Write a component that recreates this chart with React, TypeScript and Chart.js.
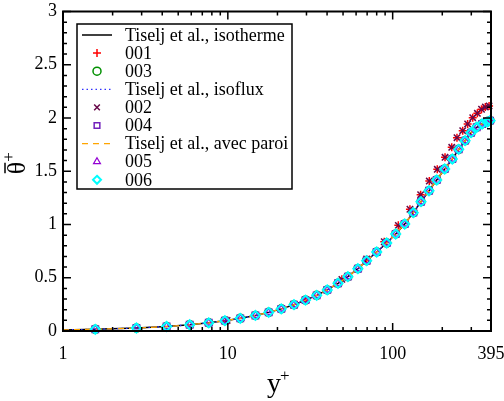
import { useEffect, useRef } from 'react';
import { Chart, registerables } from 'chart.js';

Chart.register(...registerables);

// ---- data ----
const X_TICK_LABELS = [1, 10, 100, 395];
const Y_TICK_LABELS = [0, 0.5, 1, 1.5, 2, 2.5, 3];

// Tiselj et al. reference profiles (y+, mean theta+)
const TISELJ_YPLUS = [1, 1.57, 2.79, 4.25, 5.87, 7.66, 9.6, 11.9, 14.7, 17.7, 21.1, 25.2, 29.6, 34.6, 40.1, 46.6, 53.5, 61.5, 69.5, 80, 92, 104.3, 118.3, 133.4, 148.5, 166.1, 185, 206.8, 230, 251.6, 275, 298.8, 323.6, 348.5, 374, 395];
const TISELJ_ISOTHERME = [0.01, 0.016, 0.028, 0.042, 0.059, 0.077, 0.097, 0.119, 0.146, 0.175, 0.208, 0.247, 0.29, 0.335, 0.386, 0.448, 0.51, 0.585, 0.66, 0.742, 0.826, 0.911, 1.005, 1.111, 1.214, 1.317, 1.418, 1.521, 1.615, 1.706, 1.787, 1.862, 1.913, 1.944, 1.962, 1.976];
const TISELJ_ISOFLUX = [0.01, 0.016, 0.028, 0.042, 0.059, 0.077, 0.097, 0.119, 0.146, 0.175, 0.208, 0.247, 0.29, 0.335, 0.386, 0.448, 0.51, 0.585, 0.66, 0.742, 0.826, 0.911, 1.005, 1.111, 1.214, 1.317, 1.418, 1.521, 1.615, 1.706, 1.787, 1.862, 1.913, 1.944, 1.962, 1.976];
const TISELJ_PAROI = [0.01, 0.016, 0.028, 0.042, 0.059, 0.077, 0.097, 0.119, 0.146, 0.175, 0.208, 0.247, 0.29, 0.335, 0.386, 0.448, 0.51, 0.585, 0.66, 0.742, 0.826, 0.911, 1.005, 1.111, 1.214, 1.317, 1.418, 1.521, 1.615, 1.706, 1.787, 1.862, 1.913, 1.944, 1.962, 1.976];

// cases 001 / 002 (uniform mesh)
const CASE_A_YPLUS = [9.9, 29.6, 49.2, 69.5, 88.9, 108.2, 127.3, 147.8, 166.8, 186.5, 207.8, 228.2, 245.6, 266, 285, 306, 326.5, 346, 365, 384.5];
const CASE_001 = [0.099, 0.29, 0.485, 0.676, 0.838, 0.992, 1.143, 1.28, 1.408, 1.518, 1.631, 1.725, 1.815, 1.881, 1.944, 2.003, 2.044, 2.082, 2.103, 2.113];
const CASE_002 = [0.099, 0.29, 0.485, 0.676, 0.838, 0.992, 1.143, 1.28, 1.408, 1.518, 1.631, 1.725, 1.815, 1.881, 1.944, 2.003, 2.044, 2.082, 2.103, 2.113];

// cases 003 - 006 (stretched mesh)
const CASE_B_YPLUS = [1.57, 2.79, 4.25, 5.87, 7.66, 9.6, 11.9, 14.7, 17.7, 21.1, 25.2, 29.6, 34.6, 40.1, 46.6, 53.5, 61.5, 69.5, 80, 92, 104.3, 118.3, 133.4, 148.5, 166.1, 185, 206.8, 230, 251.6, 275, 298.8, 323.6, 348.5, 374, 390];
const CASE_003 = [0.016, 0.028, 0.042, 0.059, 0.077, 0.097, 0.119, 0.146, 0.175, 0.208, 0.247, 0.29, 0.335, 0.386, 0.448, 0.51, 0.585, 0.66, 0.742, 0.826, 0.911, 1.005, 1.111, 1.214, 1.317, 1.418, 1.521, 1.615, 1.706, 1.787, 1.862, 1.913, 1.944, 1.962, 1.975];
const CASE_004 = CASE_003.slice();
const CASE_005 = CASE_003.slice();
const CASE_006 = CASE_003.slice();

const FONT = '"Liberation Serif", "DejaVu Serif", serif';

const pts = (xs: number[], ys: number[]) => xs.map((x, i) => ({ x, y: ys[i] }));

function drawMarker(ctx: CanvasRenderingContext2D, style: string, x: number, y: number, r: number) {
  ctx.beginPath();
  const s = r * Math.SQRT1_2;
  switch (style) {
    case 'cross':
      ctx.moveTo(x - r, y); ctx.lineTo(x + r, y);
      ctx.moveTo(x, y - r); ctx.lineTo(x, y + r);
      break;
    case 'crossRot':
      ctx.moveTo(x - s, y - s); ctx.lineTo(x + s, y + s);
      ctx.moveTo(x - s, y + s); ctx.lineTo(x + s, y - s);
      break;
    case 'circle':
      ctx.arc(x, y, r, 0, Math.PI * 2);
      break;
    case 'rect':
      ctx.rect(x - s, y - s, 2 * s, 2 * s);
      break;
    case 'triangle': {
      ctx.moveTo(x, y - r);
      ctx.lineTo(x + r * 0.866, y + r * 0.5);
      ctx.lineTo(x - r * 0.866, y + r * 0.5);
      ctx.closePath();
      break;
    }
    case 'rectRot':
      ctx.moveTo(x, y - r); ctx.lineTo(x + r, y); ctx.lineTo(x, y + r); ctx.lineTo(x - r, y); ctx.closePath();
      break;
  }
  ctx.stroke();
}

const decorPlugin = {
  id: 'decor',
  afterDraw(chart: any) {
    const { ctx, chartArea: ca, scales } = chart;
    const xs = scales.x, ys = scales.y;
    ctx.save();
    ctx.strokeStyle = '#000';
    ctx.lineWidth = 1.5;
    ctx.setLineDash([]);
    // x ticks (log: 1..9, 10..90, 100..300)
    ctx.beginPath();
    for (let d = 1; d <= 100; d *= 10) {
      for (let m = 1; m <= 9; m++) {
        const v = d * m;
        if (v >= 395) break;
        const px = xs.getPixelForValue(v);
        const len = m === 1 ? 8 : 4;
        ctx.moveTo(px, ca.bottom); ctx.lineTo(px, ca.bottom - len);
        ctx.moveTo(px, ca.top); ctx.lineTo(px, ca.top + len);
      }
    }
    // y ticks every 0.1, major every 0.5
    for (let k = 0; k <= 30; k++) {
      const py = ys.getPixelForValue(k / 10);
      const len = k % 5 === 0 ? 8 : 4;
      ctx.moveTo(ca.left, py); ctx.lineTo(ca.left + len, py);
      ctx.moveTo(ca.right, py); ctx.lineTo(ca.right - len, py);
    }
    ctx.stroke();
    // frame
    ctx.lineWidth = 2;
    ctx.strokeRect(ca.left, ca.top, ca.right - ca.left, ca.bottom - ca.top);

    // legend
    const lx = ca.left + 14, ly = ca.top + 12.5, lw = 215, lh = 165;
    ctx.fillStyle = '#fff';
    ctx.fillRect(lx, ly, lw, lh);
    ctx.lineWidth = 1.5;
    ctx.strokeStyle = '#000';
    ctx.strokeRect(lx, ly, lw, lh);
    chart.data.datasets.forEach((ds: any, i: number) => {
      const cy = ly + 11 + i * 18.1;
      ctx.save();
      if (ds.showLine) {
        ctx.strokeStyle = ds.borderColor;
        ctx.lineWidth = ds.borderWidth;
        ctx.setLineDash(ds.borderDash || []);
        ctx.beginPath();
        ctx.moveTo(lx + 5, cy); ctx.lineTo(lx + 35, cy);
        ctx.stroke();
      } else {
        ctx.strokeStyle = ds.pointBorderColor;
        ctx.lineWidth = ds.pointBorderWidth;
        ctx.setLineDash([]);
        drawMarker(ctx, ds.pointStyle, lx + 20, cy, Math.min(ds.pointRadius, 4));
      }
      ctx.restore();
      ctx.fillStyle = '#000';
      ctx.font = `18px ${FONT}`;
      ctx.textAlign = 'left';
      ctx.textBaseline = 'middle';
      ctx.fillText(ds.label, lx + 48, cy + 1);
    });

    // x title: y+
    ctx.fillStyle = '#000';
    ctx.textAlign = 'left';
    ctx.textBaseline = 'alphabetic';
    ctx.font = `28px ${FONT}`;
    const xt = 'y';
    const xtW = ctx.measureText(xt).width;
    const xtx = (ca.left + ca.right) / 2 - 10;
    ctx.fillText(xt, xtx, 392);
    ctx.font = `17px ${FONT}`;
    ctx.fillText('+', xtx + xtW - 1, 381);

    // y title: theta-bar +
    ctx.save();
    ctx.translate(25, (ca.top + ca.bottom) / 2 + 3);
    ctx.rotate(-Math.PI / 2);
    ctx.font = `26px ${FONT}`;
    const th = '\u03B8';
    const thW = ctx.measureText(th).width;
    ctx.fillText(th, 0, 0);
    ctx.lineWidth = 1.5;
    ctx.beginPath();
    ctx.moveTo(1, -20); ctx.lineTo(thW - 1, -20);
    ctx.stroke();
    ctx.font = `17px ${FONT}`;
    ctx.fillText('+', thW, -11);
    ctx.restore();

    ctx.restore();
  },
};

export default function App() {
  const ref = useRef<HTMLCanvasElement>(null);
  useEffect(() => {
    if (!ref.current) return;
    const lineDs = (label: string, ys: number[], color: string, dash: number[], width: number) => ({
      label,
      data: pts(TISELJ_YPLUS, ys),
      showLine: true,
      borderColor: color,
      borderWidth: width,
      borderDash: dash,
      pointRadius: 0,
      fill: false,
      tension: 0,
    });
    const pointDs = (label: string, xs: number[], ys: number[], style: string, color: string, r: number, bw: number) => ({
      label,
      data: pts(xs, ys),
      showLine: false,
      pointStyle: style,
      pointRadius: r,
      pointBorderColor: color,
      pointBackgroundColor: 'rgba(0,0,0,0)',
      pointBorderWidth: bw,
      borderColor: color,
      clip: false,
    });
    const datasets: any[] = [
      lineDs('Tiselj et al., isotherme', TISELJ_ISOTHERME, '#000000', [], 1.5),
      pointDs('001', CASE_A_YPLUS, CASE_001, 'cross', '#ff0000', 4, 1.5),
      pointDs('003', CASE_B_YPLUS, CASE_003, 'circle', '#009000', 4, 1.5),
      lineDs('Tiselj et al., isoflux', TISELJ_ISOFLUX, '#3030ff', [1.5, 3], 1.3),
      pointDs('002', CASE_A_YPLUS, CASE_002, 'crossRot', '#670748', 4.5, 1.5),
      pointDs('004', CASE_B_YPLUS, CASE_004, 'rect', '#7221bc', 4.5, 1.5),
      lineDs('Tiselj et al., avec paroi', TISELJ_PAROI, '#ffa500', [6, 5], 1.3),
      pointDs('005', CASE_B_YPLUS, CASE_005, 'triangle', '#9400d3', 4, 1.2),
      pointDs('006', CASE_B_YPLUS, CASE_006, 'rectRot', '#00ffff', 4.5, 2),
    ];
    const n = datasets.length;
    datasets.forEach((d, i) => (d.order = n - i));

    const chart = new Chart(ref.current, {
      type: 'line',
      data: { datasets },
      options: {
        animation: false,
        responsive: false,
        maintainAspectRatio: false,
        layout: { padding: { left: 0, right: 13, top: 11.5, bottom: 0 } },
        plugins: { legend: { display: false }, tooltip: { enabled: false } },
        scales: {
          x: {
            type: 'logarithmic',
            min: 1,
            max: 395,
            grid: { display: false, drawTicks: false },
            border: { display: false },
            afterBuildTicks: (s: any) => {
              s.ticks = X_TICK_LABELS.map((v) => ({ value: v }));
            },
            afterFit: (s: any) => {
              s.height = 70;
              s.paddingLeft = 0;
              s.paddingRight = 0;
            },
            ticks: {
              autoSkip: false,
              maxRotation: 0,
              padding: 12,
              color: '#000',
              font: { family: FONT, size: 18 },
              callback: (v: any) => String(v),
            },
          },
          y: {
            type: 'linear',
            min: 0,
            max: 3,
            grid: { display: false, drawTicks: false },
            border: { display: false },
            afterBuildTicks: (s: any) => {
              s.ticks = Y_TICK_LABELS.map((v) => ({ value: v }));
            },
            afterFit: (s: any) => {
              s.width = 63;
              s.paddingTop = 0;
              s.paddingBottom = 0;
            },
            ticks: {
              padding: 6,
              color: '#000',
              font: { family: FONT, size: 18 },
              callback: (v: any) => String(v),
            },
          },
        },
      },
      plugins: [decorPlugin],
    });
    return () => chart.destroy();
  }, []);
  return (
    <div style={{ position: 'fixed', left: 0, top: 0, width: 504, height: 401, background: '#fff' }}>
      <canvas ref={ref} width={504} height={401} />
    </div>
  );
}
